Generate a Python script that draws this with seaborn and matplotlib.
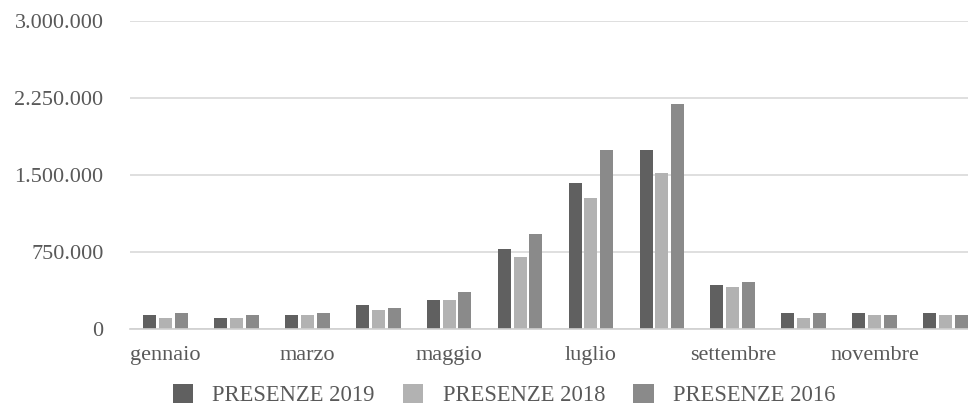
import numpy as np
import pandas as pd
import matplotlib
matplotlib.use("Agg")
import matplotlib.pyplot as plt
from matplotlib.ticker import FuncFormatter
import seaborn as sns

# Monthly tourist presences
mesi = ["gennaio", "febbraio", "marzo", "aprile", "maggio", "giugno",
        "luglio", "agosto", "settembre", "ottobre", "novembre", "dicembre"]
serie = ["PRESENZE 2019", "PRESENZE 2018", "PRESENZE 2016"]
presenze_2019 = [133000, 107000, 133000, 233000, 282000, 778000,
                 1423000, 1744000, 428000, 159000, 159000, 159000]
presenze_2018 = [107000, 107000, 133000, 182000, 282000, 703000,
                 1274000, 1520000, 405000, 107000, 133000, 133000]
presenze_2016 = [159000, 133000, 159000, 207000, 357000, 924000,
                 1744000, 2191000, 454000, 159000, 133000, 133000]
colori = ["#606060", "#b2b2b2", "#8a8a8a"]
y_ticks = [0, 750000, 1500000, 2250000, 3000000]

df = pd.DataFrame({
    "mese": mesi * 3,
    "presenze": presenze_2019 + presenze_2018 + presenze_2016,
    "serie": [serie[0]] * 12 + [serie[1]] * 12 + [serie[2]] * 12,
})

sns.set_style("white")
plt.rcParams["font.family"] = ["Liberation Serif", "DejaVu Serif"]
text_color = "#595959"

W, H = 968, 407
fig = plt.figure(figsize=(W / 100, H / 100), dpi=100)
ax = fig.add_axes([130 / W, 1 - 329 / H, (981 - 130) / W, (329 - 20.7) / H])

sns.barplot(data=df, x="mese", y="presenze", hue="serie", hue_order=serie,
            order=mesi, palette=colori, width=0.67, gap=0.18,
            linewidth=0, saturation=1, ax=ax)

ax.set_ylim(0, 3000000)
ax.set_xlim(-0.5, 11.5)
ax.set_yticks(y_ticks)
ax.yaxis.set_major_formatter(FuncFormatter(lambda v, p: f"{v:,.0f}".replace(",", ".")))
ax.set_xticks(range(0, 12, 2))
ax.set_xticklabels(mesi[::2])
ax.tick_params(axis="both", length=0, labelsize=16, labelcolor=text_color)
ax.tick_params(axis="y", pad=19)
ax.tick_params(axis="x", pad=12)
ax.set_xlabel("")
ax.set_ylabel("")

ax.grid(axis="y", color="#d9d9d9", linewidth=1.2)
ax.set_axisbelow(True)
for s in ["top", "right", "left"]:
    ax.spines[s].set_visible(False)
ax.spines["bottom"].set_color("#d0d0d0")
ax.spines["bottom"].set_linewidth(1.2)

handles, labels = ax.get_legend_handles_labels()
ax.get_legend().remove()
fig.legend(handles, labels, loc="center", bbox_to_anchor=(504 / W, 1 - 395 / H),
           ncol=3, frameon=False, labelcolor=text_color,
           prop={"size": 16.3}, handlelength=0.9, handleheight=0.9,
           handletextpad=0.85, columnspacing=1.25, borderpad=0.1)

fig.savefig("out.png", dpi=100)
